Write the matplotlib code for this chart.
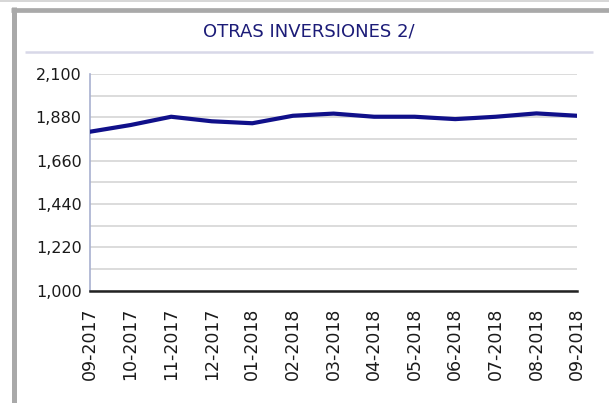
import matplotlib
matplotlib.use('Agg')
import matplotlib.pyplot as plt
from matplotlib.lines import Line2D
from matplotlib.ticker import FixedLocator, FuncFormatter

# datos
meses = ['09-2017', '10-2017', '11-2017', '12-2017', '01-2018', '02-2018',
         '03-2018', '04-2018', '05-2018', '06-2018', '07-2018', '08-2018',
         '09-2018']
otras_inversiones = [1807, 1841, 1883, 1860, 1850, 1888, 1899, 1883, 1883,
                     1871, 1883, 1900, 1888]
marcas_y = [1000, 1220, 1440, 1660, 1880, 2100]
lineas_y = [1110, 1330, 1550, 1770, 1990]
titulo = 'OTRAS INVERSIONES 2/'

W, H = 609, 403
fig = plt.figure(figsize=(W / 100, H / 100), dpi=100)
fig.patch.set_facecolor('white')

# marco gris del panel
fig.add_artist(Line2D([0, 1], [1 - 0.5 / H, 1 - 0.5 / H], color='#cfcfcf', lw=1.2))
fig.add_artist(Line2D([13.5 / W, 13.5 / W], [0, 1 - 7 / H], color='#a9a9a9', lw=3.6,
                      solid_capstyle='butt'))
fig.add_artist(Line2D([11 / W, 1], [1 - 9.6 / H, 1 - 9.6 / H], color='#a9a9a9', lw=3.4,
                      solid_capstyle='butt'))
# linea bajo el titulo
fig.add_artist(Line2D([25 / W, 593 / W], [1 - 51.5 / H, 1 - 51.5 / H], color='#d8d8e8',
                      lw=1.8, solid_capstyle='butt'))

fig.text(308.4 / W, 1 - 31 / H, titulo, ha='center', va='center', color='#1c1c78',
         fontsize=13, family='DejaVu Sans')

ax = fig.add_axes([90 / W, 1 - 290.7 / H, (577 - 90) / W, (290.7 - 74) / H])
x = list(range(len(meses)))
ax.plot(x, otras_inversiones, color='#10108a', lw=3, solid_joinstyle='round', zorder=3)

ax.set_xlim(0, len(meses) - 1)
ax.set_ylim(1000, 2100)
ax.yaxis.set_major_locator(FixedLocator(marcas_y))
ax.yaxis.set_minor_locator(FixedLocator(lineas_y))
ax.yaxis.set_major_formatter(FuncFormatter(lambda v, p: '{:,.0f}'.format(v)))
ax.grid(axis='y', which='both', color='#d6d6d6', lw=1.2)
ax.set_axisbelow(True)

ax.set_xticks(x)
ax.set_xticklabels(meses, rotation=90, va='top', ha='center')
ax.tick_params(axis='both', which='both', length=0, colors='#1a1a1a')
ax.tick_params(axis='y', pad=6, labelsize=11.5)
ax.tick_params(axis='x', pad=12, labelsize=12.5)

for s in ['top', 'right']:
    ax.spines[s].set_visible(False)
ax.spines['left'].set_color('#a8b0d0')
ax.spines['left'].set_linewidth(1.2)
ax.spines['bottom'].set_color('#222222')
ax.spines['bottom'].set_linewidth(1.8)

plt.savefig('out.png', dpi=100)
